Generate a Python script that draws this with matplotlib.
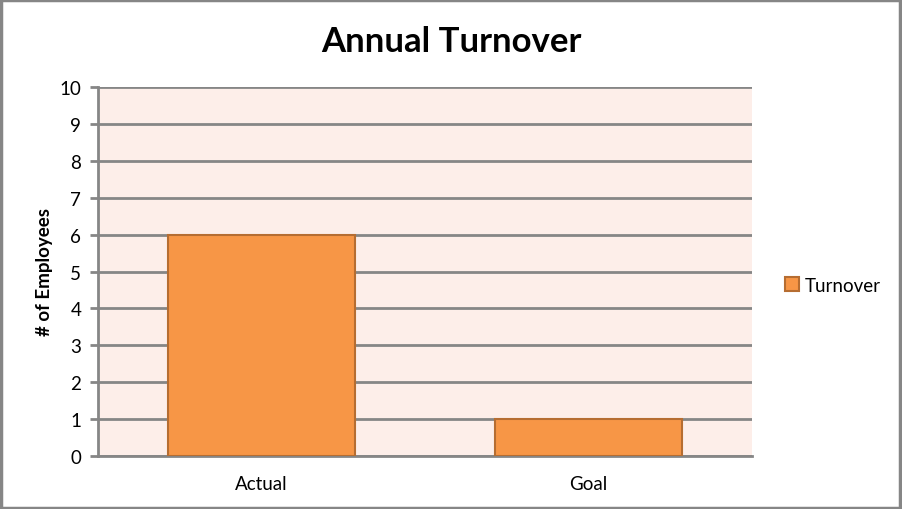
import matplotlib
matplotlib.use("Agg")
import matplotlib.pyplot as plt
from matplotlib.patches import Rectangle

categories = ["Actual", "Goal"]
turnover = [6, 1]
yticks = list(range(0, 11))

plt.rcParams['font.family'] = ['Lato', 'DejaVu Sans']

fig = plt.figure(figsize=(9.02, 5.10), dpi=100)
ax = fig.add_axes([98/902, 1-457/510, 654/902, 369/510])
ax.set_facecolor('#FDEEE9')

x = list(range(len(categories)))
bars = ax.bar(x, turnover, width=0.572, color='#F79646', edgecolor='#B66D31', linewidth=1.5, zorder=3, label='Turnover')
ax.set_xlim(-0.5, len(categories)-0.5)
ax.set_ylim(0, 10)
ax.set_yticks(yticks)
ax.set_xticks(x)
ax.set_xticklabels(categories, fontsize=13.5)
ax.tick_params(axis='x', length=0, pad=14)
ax.tick_params(axis='y', length=6, width=2, color='#868686', labelsize=13.5, pad=6)
ax.yaxis.grid(True, color='#868686', linewidth=2, zorder=1)
ax.set_axisbelow(True)
for s in ['top', 'right']:
    ax.spines[s].set_visible(False)
ax.spines['left'].set_color('#868686')
ax.spines['left'].set_linewidth(2)
ax.spines['bottom'].set_color('#868686')
ax.spines['bottom'].set_linewidth(2)
ax.set_ylabel('# of Employees', fontsize=13.5, fontweight='bold', labelpad=5)

fig.text(0.5, 1-42/510, 'Annual Turnover', ha='center', va='center', fontsize=25, fontweight='bold')

leg = fig.legend(handles=[bars], labels=['Turnover'], loc='center left', bbox_to_anchor=(768/902, 1-286/510),
                 frameon=False, fontsize=13.5, handlelength=0.75, handleheight=0.75, handletextpad=0.3)

fig.patches.append(Rectangle((0.001, 0.002), 0.997, 0.996, transform=fig.transFigure, fill=False,
                             edgecolor='#868686', linewidth=2.5))

fig.savefig('out.png', dpi=100)
